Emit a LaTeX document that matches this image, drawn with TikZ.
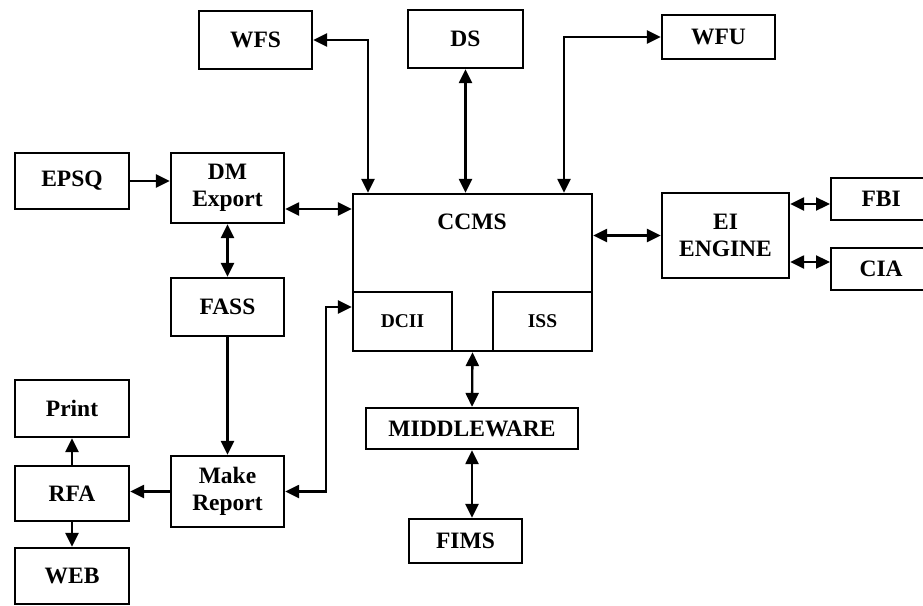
\documentclass[tikz,border=0pt]{standalone}
\usepackage{fontspec}
\setmainfont{Liberation Serif}
\usetikzlibrary{arrows.meta}
\begin{document}
\begin{tikzpicture}[x=1pt,y=-1pt,
  blk/.style={draw, line width=2.3pt, inner sep=0pt, align=center,
    font=\bfseries\fontsize{23.5}{27}\selectfont},
  lbl/.style={inner sep=0pt, align=center, font=\bfseries\fontsize{23.5}{27}\selectfont},
  con/.style={line width=2.3pt, -{Triangle[length=14pt,width=13pt]}},
  bicon/.style={line width=2.3pt, {Triangle[length=14pt,width=13pt]}-{Triangle[length=14pt,width=13pt]}}]
\useasboundingbox[fill=white] (0,0) rectangle (923,605);
% boxes
\node[blk, minimum width=113pt, minimum height=58pt] (wfs) at (255.5,40) {WFS};
\node[blk, minimum width=115pt, minimum height=58pt] (ds) at (465.5,39) {DS};
\node[blk, minimum width=113pt, minimum height=44pt] (wfu) at (718.5,37) {WFU};
\node[blk, minimum width=114pt, minimum height=56pt] (epsq) at (72,181) {EPSQ};
\node[blk, minimum width=113pt, minimum height=70pt] (dm) at (227.5,188) {DM\\Export};
\node[blk, minimum width=113pt, minimum height=58pt] (fass) at (227.5,307) {FASS};
\node[blk, minimum width=239pt, minimum height=157pt] (ccms) at (472.5,272.5) {};
\node[lbl] (ccmslbl) at (472,222) {CCMS};
\node[blk, minimum width=99pt, minimum height=59pt, font=\bfseries\fontsize{19.5}{23}\selectfont] (dcii) at (402.5,321.5) {DCII};
\node[blk, minimum width=99pt, minimum height=59pt, font=\bfseries\fontsize{19.5}{23}\selectfont] (iss) at (542.5,321.5) {ISS};
\node[blk, minimum width=127pt, minimum height=85pt] (ei) at (725.5,235.5) {EI\\ENGINE};
\node[blk, minimum width=105pt, minimum height=42pt, anchor=west] (fbi) at (830,199) {\hspace*{-5pt}FBI};
\node[blk, minimum width=105pt, minimum height=42pt, anchor=west] (cia) at (830,269) {\hspace*{-5pt}CIA};
\node[blk, minimum width=212pt, minimum height=41pt] (mw) at (472,428.5) {MIDDLEWARE};
\node[blk, minimum width=113pt, minimum height=44pt] (fims) at (465.5,541) {FIMS};
\node[blk, minimum width=114pt, minimum height=57pt] (print) at (72,408.5) {Print};
\node[blk, minimum width=114pt, minimum height=55pt] (rfa) at (72,493.5) {RFA};
\node[blk, minimum width=114pt, minimum height=56pt] (web) at (72,576) {WEB};
\node[blk, minimum width=113pt, minimum height=71pt] (mr) at (227.5,491.5) {Make\\Report};
% helper coordinates
\coordinate (x368) at (368,0);
\coordinate (x564) at (564,0);
\coordinate (x326) at (326,0);
\coordinate (h209) at (0,209);
\coordinate (h204) at (0,204);
\coordinate (h262) at (0,262);
\coordinate (h307) at (0,307);
% connectors
\draw[con] (epsq.east) -- (epsq.east -| dm.west);
\draw[bicon] (dm.east |- h209) -- (ccms.west |- h209);
\draw[bicon] (wfs.east) -| (x368 |- ccms.north);
\draw[bicon] (ds.south) -- (ds.south |- ccms.north);
\draw[bicon] (wfu.west) -| (x564 |- ccms.north);
\draw[bicon] (ccms.east |- ei.west) -- (ei.west);
\draw[bicon] (ei.east |- h204) -- (fbi.west |- h204);
\draw[bicon] (ei.east |- h262) -- (cia.west |- h262);
\draw[bicon] (dm.south) -- (fass.north);
\draw[con] (fass.south) -- (mr.north);
\draw[con] (mr.west) -- (mr.west -| rfa.east);
\draw[con] (rfa.north) -- (print.south);
\draw[con] (rfa.south) -- (web.north);
\draw[bicon] (mr.east) -- (x326 |- mr.east) -- (x326 |- h307) -- (dcii.west |- h307);
\draw[bicon] (ccms.south) -- (mw.north);
\draw[bicon] (mw.south) -- (mw.south |- fims.north);
\end{tikzpicture}
\end{document}
